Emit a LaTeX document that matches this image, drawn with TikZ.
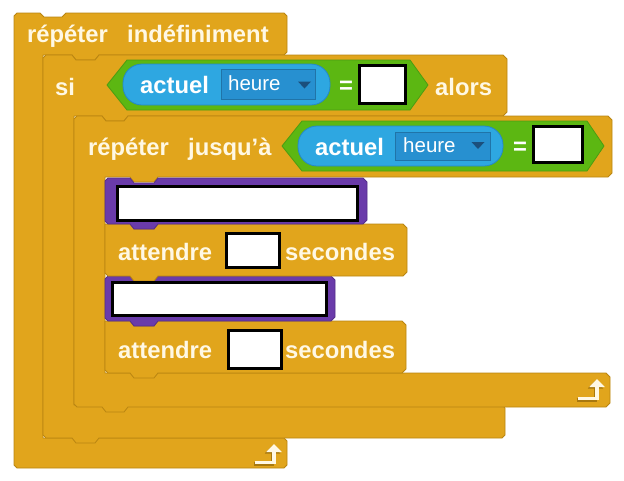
\documentclass[tikz,border=0pt]{standalone}
\usepackage{fontspec}
\setmainfont{Liberation Sans}
\usetikzlibrary{arrows.meta}
\definecolor{gold}{HTML}{E1A51C}
\definecolor{golddark}{HTML}{B98512}
\definecolor{goldshadow}{HTML}{A8780E}
\definecolor{cream}{HTML}{FFF8E4}
\definecolor{opgreen}{HTML}{5CB712}
\definecolor{opgreendark}{HTML}{4C9C12}
\definecolor{sensblue}{HTML}{2EA7E1}
\definecolor{sensbluedark}{HTML}{2688C6}
\definecolor{ddblue}{HTML}{2790D0}
\definecolor{ddnavy}{HTML}{1B4F7C}
\definecolor{lookpurple}{HTML}{6A3BAA}
\tikzset{
  ctrl/.style={fill=gold, draw=golddark, line width=0.8pt, line join=round},
  look/.style={fill=lookpurple, draw=lookpurple!80!black, line width=0.8pt, line join=round},
  lbl/.style={text=cream, font=\bfseries\fontsize{23.8}{28}\selectfont, anchor=base west, inner sep=0pt},
  wlbl/.style={text=white, font=\bfseries\fontsize{23.8}{28}\selectfont, anchor=base west, inner sep=0pt},
  ddlbl/.style={text=white, font=\fontsize{20.5}{24}\selectfont, anchor=base west, inner sep=0pt},
  eqlbl/.style={text=white, font=\bfseries\fontsize{23.8}{28}\selectfont, anchor=base, inner sep=0pt},
  hexa/.style={fill=opgreen, draw=opgreendark, line width=0.8pt, line join=round},
  pill/.style={fill=sensblue, draw=sensbluedark, line width=0.8pt, rounded corners=19pt},
  dd/.style={fill=ddblue, draw=sensbluedark!85!black, line width=0.6pt},
  slot/.style={fill=white, draw=black, line width=3pt},
  loopar/.style={line width=3.6pt, -{Triangle[width=15pt,length=8pt]}},
}
\begin{document}
\begin{tikzpicture}[x=1pt,y=-1pt]
\useasboundingbox (0,0) rectangle (624,480);
% ---- outer: repeter indefiniment
\draw[ctrl] (14,16) -- (17,13) -- (40,13) -- (44,17) -- (62,17) -- (66,13) -- (284,13) -- (287,16) -- (287,52) -- (284,55)
  -- (99,55) -- (95,60) -- (76,60) -- (72,55) -- (43,55) -- (43,438) -- (284,438) -- (287,441) -- (287,465) -- (284,468)
  -- (17,468) -- (14,465) -- cycle;
% ---- si ... alors
\draw[ctrl] (43,58) -- (46,55) -- (72,55) -- (76,60) -- (95,60) -- (99,55) -- (503,55) -- (507,59) -- (507,112) -- (503,116)
  -- (128,116) -- (124,121) -- (106,121) -- (102,116) -- (74,116) -- (74,405) -- (502,405) -- (505,408) -- (505,435) -- (502,438)
  -- (99,438) -- (95,443) -- (76,443) -- (72,438) -- (46,438) -- (43,435) -- cycle;
% ---- repeter jusqu'a
\draw[ctrl] (74,119) -- (77,116) -- (102,116) -- (106,121) -- (124,121) -- (128,116) -- (608,116) -- (612,120) -- (612,173) -- (608,177)
  -- (158,177) -- (154,182) -- (134,182) -- (130,177) -- (105,177) -- (105,373) -- (606,373) -- (610,377) -- (610,403) -- (606,407)
  -- (128,407) -- (124,412) -- (106,412) -- (102,407) -- (77,407) -- (74,404) -- cycle;
% ---- inner stack
\draw[ctrl] (105,321) -- (130,321) -- (134,326) -- (154,326) -- (158,321) -- (402,321) -- (406,325) -- (406,369) -- (402,373)
  -- (158,373) -- (154,378) -- (134,378) -- (130,373) -- (108,373) -- (105,370) -- cycle;
\draw[look] (105,279) -- (108,276) -- (130,276) -- (134,281) -- (154,281) -- (158,276) -- (331,276) -- (335,280) -- (335,317) -- (331,321)
  -- (158,321) -- (154,326) -- (134,326) -- (130,321) -- (108,321) -- (105,318) -- cycle;
\draw[ctrl] (105,224) -- (130,224) -- (134,229) -- (154,229) -- (158,224) -- (403,224) -- (407,228) -- (407,272) -- (403,276)
  -- (158,276) -- (154,281) -- (134,281) -- (130,276) -- (108,276) -- (105,273) -- cycle;
\draw[look] (105,181) -- (108,178) -- (130,178) -- (134,183) -- (154,183) -- (158,178) -- (363,178) -- (367,182) -- (367,220) -- (363,224)
  -- (158,224) -- (154,229) -- (134,229) -- (130,224) -- (108,224) -- (105,221) -- cycle;
\draw[slot] (117.5,186) rectangle (357,220);
\draw[slot] (112.5,282) rectangle (326,315);
\draw[slot] (226,233) rectangle (279,267);
\draw[slot] (228,330) rectangle (281,368);
% ---- condition 1
\draw[hexa] (107,85) -- (127,60) -- (410,60) -- (428,85) -- (410,110) -- (127,110) -- cycle;
\draw[pill] (123,64) rectangle (330,105);
\draw[dd] (221,69) rectangle (315,99);
\fill[ddnavy] (298,81.5) -- (311,81.5) -- (304.5,88.5) -- cycle;
\draw[slot] (359.5,65.5) rectangle (405.5,103.5);
% ---- condition 2
\draw[hexa] (282,146) -- (302,121) -- (587,121) -- (604,146) -- (587,171) -- (302,171) -- cycle;
\draw[pill] (298,126) rectangle (503,166);
\draw[dd] (395,132) rectangle (490,160);
\fill[ddnavy] (471.5,142) -- (484.5,142) -- (478,149) -- cycle;
\draw[slot] (533.5,126.5) rectangle (582.5,162.5);
% ---- labels
\node[lbl] (t1) at (27,42) {répéter};
\node[lbl] (t2) at (127,42) {indéfiniment};
\node[lbl] (t3) at (55,95) {si};
\node[wlbl] (t4) at (140,93) {actuel};
\node[ddlbl] (t5) at (228,90) {heure};
\node[eqlbl] (t6) at (346,93) {=};
\node[lbl] (t7) at (435,95) {alors};
\node[lbl] (t8) at (88,155) {répéter};
\node[lbl] (t9) at (188,155) {jusqu’à};
\node[wlbl] (t10) at (315,155) {actuel};
\node[ddlbl] (t11) at (403,152) {heure};
\node[eqlbl] (t12) at (520,154) {=};
\node[lbl] (t13) at (118,260) {attendre};
\node[lbl] (t14) at (285,260) {secondes};
\node[lbl] (t15) at (118,358) {attendre};
\node[lbl] (t16) at (285,358) {secondes};
% ---- loop arrows
\coordinate (a1s) at (578,398.5);
\coordinate (a1c) at (597,398.5);
\coordinate (a1e) at (597,379);
\draw[loopar, goldshadow] ([shift={(-1.5,1.5)}]a1s) -- ([shift={(-1.5,1.5)}]a1c) -- ([shift={(-1.5,1.5)}]a1e);
\draw[loopar, cream] (a1s) -- (a1c) -- (a1e);
\coordinate (a2s) at (255,462.5);
\coordinate (a2c) at (274,462.5);
\coordinate (a2e) at (274,444);
\draw[loopar, goldshadow] ([shift={(-1.5,1.5)}]a2s) -- ([shift={(-1.5,1.5)}]a2c) -- ([shift={(-1.5,1.5)}]a2e);
\draw[loopar, cream] (a2s) -- (a2c) -- (a2e);
\end{tikzpicture}
\end{document}
